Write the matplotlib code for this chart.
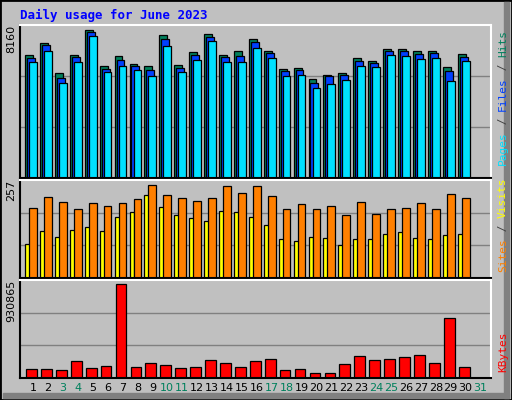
import numpy as np
import matplotlib.pyplot as plt
from matplotlib.patches import Rectangle

days = np.arange(1, 31)
day_labels = [str(d) for d in range(1, 32)]
weekend = [3, 4, 10, 11, 17, 18, 24, 25, 31]

hits = [6637, 7290, 5658, 6637, 7997, 6038, 6582, 6147, 6038, 7725, 6093, 6800, 7779, 6637, 6854,
        7507, 6854, 5875, 5930, 5331, 5549, 5658, 6474, 6310, 6963, 6963, 6854, 6854, 5984, 6691]
files = [6474, 7181, 5386, 6528, 7888, 5875, 6365, 6038, 5821, 7507, 5930, 6637, 7616, 6528, 6582,
         7344, 6746, 5766, 5821, 5114, 5494, 5549, 6310, 6202, 6854, 6854, 6691, 6746, 5766, 6528]
pages = [6256, 6854, 5114, 6256, 7670, 5712, 6038, 5821, 5494, 7126, 5712, 6365, 7398, 6256, 6256,
         7018, 6474, 5494, 5549, 4842, 5059, 5277, 6038, 5984, 6637, 6582, 6419, 6474, 5222, 6310]
sites = [189, 219, 205, 186, 202, 194, 202, 213, 252, 224, 216, 208, 216, 249, 230,
         249, 221, 186, 200, 186, 194, 170, 205, 172, 186, 189, 202, 186, 227, 216]
visits = [93, 126, 112, 131, 139, 128, 164, 178, 224, 191, 170, 161, 153, 180, 178,
          164, 142, 104, 101, 112, 107, 88, 104, 104, 118, 123, 107, 104, 115, 120]
kbytes = [92000, 92000, 82000, 164000, 102000, 123000, 930865, 113000, 153000, 133000, 102000, 113000,
          174000, 153000, 113000, 164000, 184000, 82000, 92000, 51000, 51000, 143000, 215000, 174000,
          184000, 205000, 225000, 153000, 593000, 113000]

bg = '#C0C0C0'
mono = 'DejaVu Sans Mono'
fig = plt.figure(figsize=(5.12, 4.0), dpi=100, facecolor=bg)
renderer = fig.canvas.get_renderer()

# 3D style outer frame
fig.patches.append(Rectangle((0, 0), 1, 1, transform=fig.transFigure, fill=False, ec='black', lw=2))
fig.patches.append(Rectangle((0.985, 0.005), 0.01, 0.99, transform=fig.transFigure, color='#808080'))
fig.patches.append(Rectangle((0.005, 0.005), 0.99, 0.012, transform=fig.transFigure, color='#808080'))

fig.text(20 / 512, 1 - 15 / 400, 'Daily usage for June 2023', color='#0000FF', fontsize=9,
         fontweight='bold', family=mono, va='center')

def make_ax(rect, ymax, label):
    ax = fig.add_axes(rect, facecolor=bg)
    ax.set_xlim(0.13, 31.7)
    ax.set_ylim(0, ymax)
    for y in (ymax / 3, 2 * ymax / 3):
        ax.axhline(y, color='#808080', lw=1, zorder=0)
    ax.spines['left'].set_color('black')
    ax.spines['bottom'].set_color('black')
    ax.spines['top'].set_color('white')
    ax.spines['right'].set_color('white')
    for s in ax.spines.values():
        s.set_linewidth(1.5)
    ax.set_xticks([])
    ax.set_yticks([])
    ax.text(-0.008, 1.0, label, transform=ax.transAxes, rotation=90, ha='right', va='top',
            fontsize=8, family='DejaVu Sans')
    return ax

def side_label(ax, parts, start):
    # stack rotated pieces from bottom up, using their real extents
    y_px = fig.transFigure.transform((0, start))[1]
    x_px = fig.transFigure.transform((498 / 512, 0))[0]
    for txt, col in parts:
        t = fig.text(0, 0, txt, rotation=90, ha='left', va='bottom', fontsize=8, family=mono,
                     color=col, transform=None)
        t.set_position((x_px, y_px))
        ext = t.get_window_extent(renderer)
        y_px += ext.height

ax1 = make_ax([20 / 512, 0.555, 471 / 512, 0.3825], 8160 * 1.01, '8160')
ax1.bar(days - 0.265, hits, width=0.53, color='#00805C', ec='black', lw=0.9)
ax1.bar(days - 0.135, files, width=0.53, color='#0040FF', ec='black', lw=0.9)
ax1.bar(days + 0.0, pages, width=0.52, color='#00E0FF', ec='black', lw=0.9)
side_label(ax1, [('Pages', '#00E0FF'), (' / ', '#404040'), ('Files', '#0040FF'),
                 (' / ', '#404040'), ('Hits', '#00805C')], 1 - 165 / 400)

ax2 = make_ax([20 / 512, 0.305, 471 / 512, 0.245], 257 * 1.03, '257')
ax2.bar(days - 0.365, visits, width=0.33, color='#FFFF00', ec='black', lw=0.9)
ax2.bar(days + 0.0, sites, width=0.52, color='#FF8000', ec='black', lw=0.9)
side_label(ax2, [('Sites', '#FF8000'), (' / ', '#404040'), ('Visits', '#FFFF00')], 1 - 272 / 400)

ax3 = make_ax([20 / 512, 0.055, 471 / 512, 0.245], 930865 * 1.04, '930865')
ax3.bar(days - 0.1, kbytes, width=0.72, color='#FF0000', ec='black', lw=0.9)
side_label(ax3, [('KBytes', '#FF0000')], 1 - 372 / 400)

for i, lab in enumerate(day_labels):
    d = i + 1
    col = '#00805C' if d in weekend else 'black'
    ax3.text(d, -0.1, lab, transform=ax3.get_xaxis_transform(), ha='center', va='center',
             fontsize=8, color=col)

fig.savefig('out.png', dpi=100, facecolor=bg)
